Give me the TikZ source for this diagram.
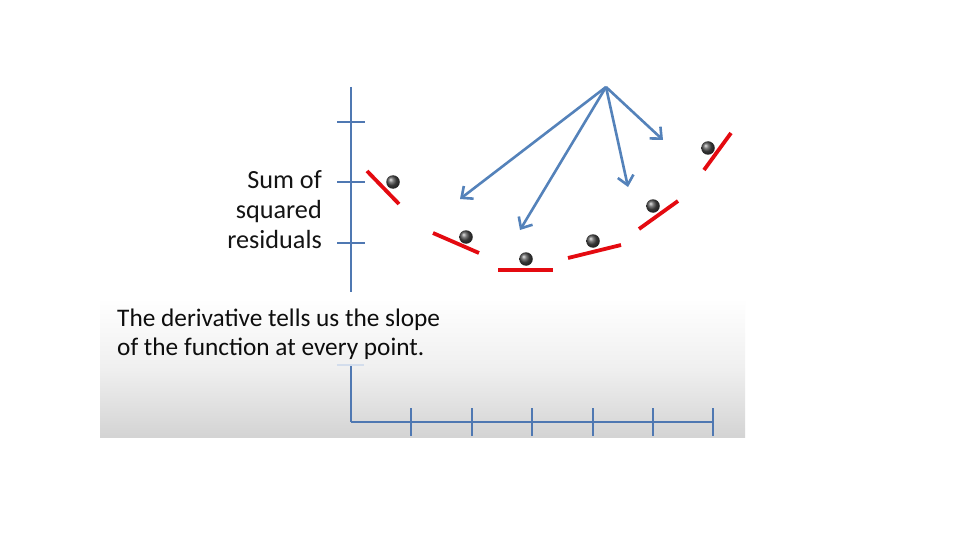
\documentclass[tikz,border=0pt]{standalone}
\usepackage{fontspec}
\setmainfont{Carlito}
\usetikzlibrary{arrows.meta,shadings}
\definecolor{axisblue}{RGB}{79,120,178}
\definecolor{arrowblue}{RGB}{84,130,186}
\definecolor{tanred}{RGB}{228,10,16}
\tikzset{
  axisline/.style={draw=axisblue, line width=2.6pt},
  tickline/.style={draw=axisblue, line width=2.2pt},
  tangent/.style={draw=tanred, line width=3.8pt},
  ptr/.style={draw=arrowblue, line width=2.6pt, -{Straight Barb[length=9pt,width=16pt,line width=2.6pt]}},
  ballnode/.style={circle, inner sep=0pt, minimum size=13.5pt, ball color=black!70},
  ylab/.style={anchor=base east, inner sep=0pt, font=\fontsize{26.2pt}{30pt}\selectfont, text=black!92},
  caption/.style={anchor=base west, inner sep=0pt, font=\fontsize{25.3pt}{30pt}\selectfont, text=black!95},
}
\begin{document}
\begin{tikzpicture}[x=1pt,y=-1pt]
\useasboundingbox (0,0) rectangle (960,540);
\fill[white] (0,0) rectangle (960,540);
% gradient caption box
\shade[top color=white, bottom color=black!17, middle color=black!6] (100,298) rectangle (745,437);
% y axis
\coordinate (ytop) at (351,87);
\coordinate (ybreak) at (351,292);
\coordinate (ylow) at (351,365);
\coordinate (origin) at (351,422);
\draw[axisline] (ytop) -- (ybreak);
\draw[axisline] (ylow) -- (origin);
\draw[draw=axisblue!25, line width=1.5pt] (337,365) -- (364,365);
\foreach \yy in {122,182,243}{
  \draw[tickline] (337,\yy) -- (365,\yy);
}
% x axis
\coordinate (xend) at (713,422);
\draw[axisline] (origin) -- (xend);
\foreach \xx in {411,472,532,593,653,713}{
  \draw[tickline] (\xx,408) -- (\xx,436);
}
% labels
\node[ylab] (l1) at (322,188) {Sum of};
\node[ylab] (l2) at (322,218) {squared};
\node[ylab] (l3) at (322,248) {residuals};
\node[caption] (c1) at (117,326) {The derivative tells us the slope};
\node[caption] (c2) at (117,355) {of the function at every point.};
% tangent lines
\coordinate (t1a) at (367,171); \coordinate (t1b) at (399,204);
\coordinate (t2a) at (433,233); \coordinate (t2b) at (479,253);
\coordinate (t3a) at (498,270); \coordinate (t3b) at (553,270);
\coordinate (t4a) at (568,258); \coordinate (t4b) at (621,245);
\coordinate (t5a) at (639,229); \coordinate (t5b) at (678,201);
\coordinate (t6a) at (704,170); \coordinate (t6b) at (731,133);
\draw[tangent] (t1a) -- (t1b);
\draw[tangent] (t2a) -- (t2b);
\draw[tangent] (t3a) -- (t3b);
\draw[tangent] (t4a) -- (t4b);
\draw[tangent] (t5a) -- (t5b);
\draw[tangent] (t6a) -- (t6b);
% balls
\node[ballnode] (b1) at (393,182) {};
\node[ballnode] (b2) at (466,237) {};
\node[ballnode] (b3) at (526,259) {};
\node[ballnode] (b4) at (593,241) {};
\node[ballnode] (b5) at (653,206) {};
\node[ballnode] (b6) at (708,148) {};
% arrows
\coordinate (apex) at (606,87);
\coordinate (a1) at (460,199);
\coordinate (a2) at (520,230);
\coordinate (a3) at (628,187);
\coordinate (a4) at (663,140);
\draw[ptr] (apex) -- (a1);
\draw[ptr] (apex) -- (a2);
\draw[ptr] (apex) -- (a3);
\draw[ptr] (apex) -- (a4);
\end{tikzpicture}
\end{document}
